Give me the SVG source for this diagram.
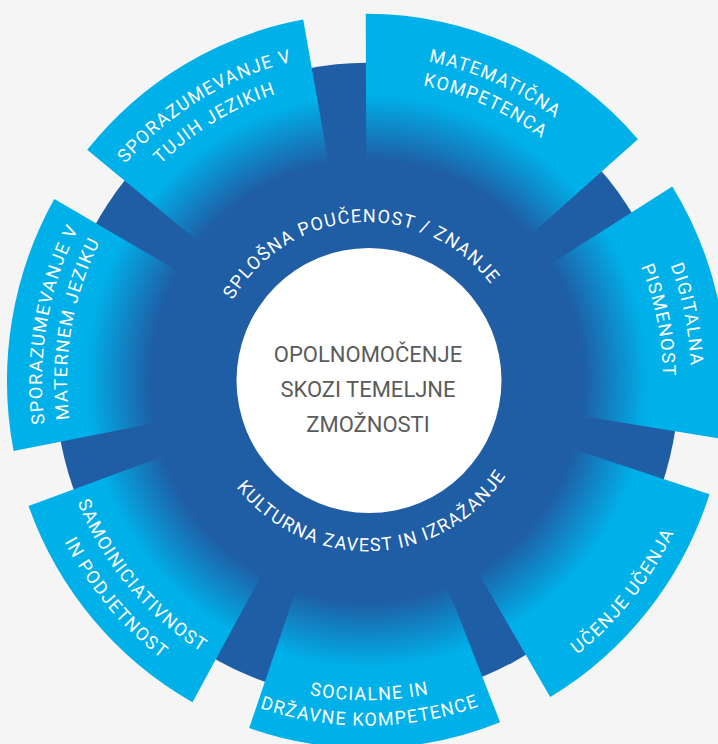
<svg xmlns="http://www.w3.org/2000/svg" width="718" height="744" viewBox="0 0 718 744">
<style>
.seg{fill:url(#segGrad)}
.lbl{font-family:Roboto,"Liberation Sans",sans-serif;font-size:18px;fill:#ffffff;letter-spacing:1.3px}
.ctr{font-family:Roboto,"Liberation Sans",sans-serif;font-size:22px;fill:#5b5b5b;text-anchor:middle}
</style>
<defs>
<radialGradient id="segGrad" gradientUnits="userSpaceOnUse" cx="0" cy="0" r="360">
<stop offset="0" stop-color="#1f5da4"/>
<stop offset="0.6" stop-color="#1f5da4"/>
<stop offset="0.78" stop-color="#00b0e9"/>
<stop offset="1" stop-color="#00b0e9"/>
</radialGradient>
<path id="p-tuj1" d="M -304.5 -104.8 A 322 322 0 0 1 50.4 -318.0"/>
<path id="p-tuj2" d="M -279.9 -96.4 A 296 296 0 0 1 46.3 -292.4"/>
<path id="p-mat1" d="M -89.5 -306.2 A 319 319 0 0 1 286.0 -141.3"/>
<path id="p-mat2" d="M -82.8 -283.1 A 295 295 0 0 1 264.5 -130.7"/>
<path id="p-dig1" d="M 201.7 -253.6 A 324 324 0 0 1 284.7 154.6"/>
<path id="p-dig2" d="M 184.3 -231.7 A 296 296 0 0 1 260.1 141.3"/>
<path id="p-uce" d="M 66.2 334.5 A 341 341 0 0 0 340.9 -7.1"/>
<path id="p-soc1" d="M -199.1 241.5 A 313 313 0 0 0 203.3 238.0"/>
<path id="p-soc2" d="M -215.0 260.8 A 338 338 0 0 0 219.5 257.0"/>
<path id="p-sam1" d="M -313.0 1.6 A 313 313 0 0 0 -52.7 308.5"/>
<path id="p-sam2" d="M -341.0 1.8 A 341 341 0 0 0 -57.5 336.1"/>
<path id="p-mt1" d="M -281.5 162.5 A 325 325 0 0 1 -208.9 -249.0"/>
<path id="p-mt2" d="M -259.8 150 A 300 300 0 0 1 -192.8 -229.8"/>
<path id="p-spl" d="M -154.9 -18.2 A 156 156 0 0 1 151.8 -35.9"/>
<path id="p-kul" d="M -163.0 36.1 A 167 167 0 0 0 165.6 21.8"/>
</defs>
<rect x="0" y="0" width="718" height="744" fill="#f5f5f5"/>
<g transform="translate(367,381) scale(1,1.02)">
  <g id="ring"><circle cx="0" cy="0" r="312" fill="#1f5da4"/></g>
  <g id="seg-tujih">
    <path class="seg" d="M -101.0 -81.8 L -279.8 -226.6 A 360 360 0 0 1 -63.8 -354.3 L -23.0 -127.9 A 130 130 0 0 0 -101.0 -81.8 Z"/>
    <text class="lbl" text-anchor="middle"><textPath href="#p-tuj1" startOffset="50%">SPORAZUMEVANJE V</textPath></text>
    <text class="lbl" text-anchor="middle"><textPath href="#p-tuj2" startOffset="50%">TUJIH JEZIKIH</textPath></text>
  </g>
  <g id="seg-matematicna">
    <path class="seg" d="M -0.45 -130 L -1.26 -360 A 360 360 0 0 1 270.9 -237.1 L 97.8 -85.6 A 130 130 0 0 0 -0.45 -130 Z"/>
    <text class="lbl" text-anchor="middle"><textPath href="#p-mat1" startOffset="50%">MATEMATIČNA</textPath></text>
    <text class="lbl" text-anchor="middle"><textPath href="#p-mat2" startOffset="50%">KOMPETENCA</textPath></text>
  </g>
  <g id="seg-digitalna">
    <path class="seg" d="M 110.2 -68.9 L 305.3 -190.8 A 360 360 0 0 1 355.5 56.9 L 128.4 20.6 A 130 130 0 0 0 110.2 -68.9 Z"/>
    <text class="lbl" text-anchor="middle"><textPath href="#p-dig1" startOffset="50%">DIGITALNA</textPath></text>
    <text class="lbl" text-anchor="middle"><textPath href="#p-dig2" startOffset="50%">PISMENOST</textPath></text>
  </g>
  <g id="seg-ucenje">
    <path class="seg" d="M 123.7 40.1 L 342.5 111.0 A 360 360 0 0 1 183.2 309.9 L 66.2 111.9 A 130 130 0 0 0 123.7 40.1 Z"/>
    <text class="lbl" text-anchor="middle"><textPath href="#p-uce" startOffset="50%">UČENJE UČENJA</textPath></text>
  </g>
  <g id="seg-socialne">
    <path class="seg" d="M 48.1 120.8 L 133.1 334.5 A 360 360 0 0 1 -117.8 340.2 L -42.5 122.8 A 130 130 0 0 0 48.1 120.8 Z"/>
    <text class="lbl" text-anchor="middle"><textPath href="#p-soc1" startOffset="50%">SOCIALNE IN</textPath></text>
    <text class="lbl" text-anchor="middle"><textPath href="#p-soc2" startOffset="50%">DRŽAVNE KOMPETENCE</textPath></text>
  </g>
  <g id="seg-samoiniciativnost">
    <path class="seg" d="M -63.0 113.7 L -174.5 314.9 A 360 360 0 0 1 -338.5 122.5 L -122.2 44.3 A 130 130 0 0 0 -63.0 113.7 Z"/>
    <text class="lbl" text-anchor="middle"><textPath href="#p-sam1" startOffset="50%">SAMOINICIATIVNOST</textPath></text>
    <text class="lbl" text-anchor="middle"><textPath href="#p-sam2" startOffset="50%">IN PODJETNOST</textPath></text>
  </g>
  <g id="seg-maternem">
    <path class="seg" d="M -127.6 24.8 L -353.4 68.7 A 360 360 0 0 1 -312.7 -178.4 L -112.9 -64.4 A 130 130 0 0 0 -127.6 24.8 Z"/>
    <text class="lbl" text-anchor="middle"><textPath href="#p-mt1" startOffset="50%">SPORAZUMEVANJE V</textPath></text>
    <text class="lbl" text-anchor="middle"><textPath href="#p-mt2" startOffset="50%">MATERNEM JEZIKU</textPath></text>
  </g>
  <g id="ring-labels">
    <text class="lbl" text-anchor="middle"><textPath href="#p-spl" startOffset="50%">SPLOŠNA POUČENOST / ZNANJE</textPath></text>
    <text class="lbl" text-anchor="middle"><textPath href="#p-kul" startOffset="50%">KULTURNA ZAVEST IN IZRAŽANJE</textPath></text>
  </g>
</g>
<g id="center">
  <circle cx="369" cy="380.5" r="132.5" fill="#ffffff"/>
  <text class="ctr" x="368" y="362">OPOLNOMOČENJE</text>
  <text class="ctr" x="368" y="397">SKOZI TEMELJNE</text>
  <text class="ctr" x="368" y="432">ZMOŽNOSTI</text>
</g>
</svg>
